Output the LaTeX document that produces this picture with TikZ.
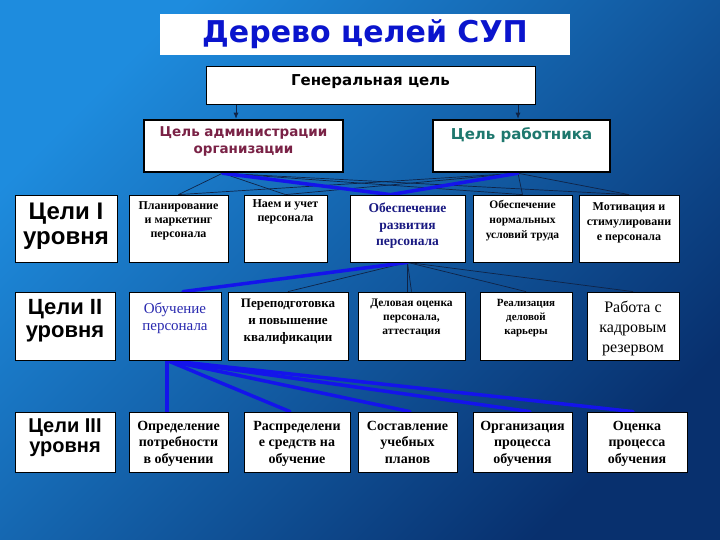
\documentclass[tikz,border=0pt]{standalone}
\usepackage{fontspec}
\setmainfont{Liberation Serif}
\newfontfamily\dvs{DejaVu Sans}
\newfontfamily\lsans{Liberation Sans}
\usetikzlibrary{calc,arrows.meta}
\pgfdeclarelayer{back}
\pgfdeclarelayer{links}
\pgfsetlayers{back,links,main}
\definecolor{bgA}{RGB}{30,140,222}
\definecolor{bgB}{RGB}{8,48,110}
\definecolor{ttl}{RGB}{10,20,205}
\definecolor{admc}{RGB}{122,34,70}
\definecolor{wrkc}{RGB}{30,120,110}
\definecolor{navyc}{RGB}{25,25,130}
\definecolor{obuc}{RGB}{40,40,175}
\definecolor{thk}{RGB}{20,20,235}
\definecolor{thn}{RGB}{15,35,70}
\newcommand{\fs}[2]{\fontsize{#1}{#2}\selectfont}
\begin{document}
\begin{tikzpicture}[x=1pt,y=-1pt,
  box/.style={draw=black, line width=0.8pt, fill=white, inner sep=0pt},
  bigbox/.style={draw=black, line width=2.5pt, fill=white, inner sep=0pt},
  tx/.style={align=center, inner sep=0pt, anchor=north},
  lnk/.style={draw=thn, line width=0.7pt},
  blu/.style={draw=thk, line width=3.5pt, line cap=round},
  lvl/.style={align=center, inner sep=0pt, anchor=north, font=\lsans\bfseries}
]
\begin{pgfonlayer}{back}
\shade[top color=bgA,bottom color=bgB,shading angle=45] (0,0) rectangle (720,540);
\end{pgfonlayer}
\useasboundingbox (0,0) rectangle (720,540);

% title and top boxes
\node[fill=white, minimum width=410pt, minimum height=41pt, inner sep=0pt] (title) at (365,34.5) {};
\node[inner sep=0pt, font=\dvs\bfseries\fs{30}{30}, text=ttl] (titlet) at (title) {Дерево целей СУП};

\node[draw=black, line width=1pt, fill=white, minimum width=329pt, minimum height=38pt, inner sep=0pt] (gen) at (370.5,86) {};
\node[tx, font=\dvs\bfseries\fs{15}{17}] (gent) at (370.5,74) {Генеральная цель};

\node[bigbox, minimum width=199pt, minimum height=52pt] (adm) at (243.5,146) {};
\node[tx, font=\dvs\bfseries\fs{13.5}{17}, text=admc] (admt) at (243.5,126) {Цель администрации\\организации};

\node[bigbox, minimum width=177pt, minimum height=52pt] (wrk) at (521.5,146) {};
\node[tx, font=\dvs\bfseries\fs{15}{17}, text=wrkc] (wrkt) at (521.5,127) {Цель работника};

% level 1
\node[box, minimum width=102pt, minimum height=67pt] (L1) at (66,228.5) {};
\node[lvl, font=\lsans\bfseries\fs{24}{25}] (L1t) at (66,203) {Цели I\\уровня};
\node[box, minimum width=99pt, minimum height=67pt] (p1) at (178.5,228.5) {};
\node[tx, font=\bfseries\fs{12}{14}] (p1t) at (178.5,201) {Планирование\\и маркетинг\\персонала};
\node[box, minimum width=83pt, minimum height=67pt] (p2) at (285.5,228.5) {};
\node[tx, font=\bfseries\fs{12}{14}] (p2t) at (285.5,199) {Наем и учет\\персонала};
\node[box, minimum width=115pt, minimum height=67pt] (p3) at (407.5,228.5) {};
\node[tx, font=\bfseries\fs{13.5}{16.5}, text=navyc] (p3t) at (407.5,203) {Обеспечение\\развития\\персонала};
\node[box, minimum width=99pt, minimum height=67pt] (p4) at (522.5,228.5) {};
\node[tx, font=\bfseries\fs{11.5}{15}] (p4t) at (522.5,200) {Обеспечение\\нормальных\\условий труда};
\node[box, minimum width=100pt, minimum height=67pt] (p5) at (629,228.5) {};
\node[tx, font=\bfseries\fs{12}{15}] (p5t) at (629,202) {Мотивация и\\стимулировани\\е персонала};

% level 2
\node[box, minimum width=100pt, minimum height=68pt] (L2) at (65,326) {};
\node[lvl, font=\lsans\bfseries\fs{22}{23}] (L2t) at (65,299) {Цели II\\уровня};
\node[box, minimum width=92pt, minimum height=68pt] (q1) at (175,326) {};
\node[tx, font=\fs{15}{17}, text=obuc] (q1t) at (175,303) {Обучение\\персонала};
\node[box, minimum width=120pt, minimum height=68pt] (q2) at (288,326) {};
\node[tx, font=\bfseries\fs{13}{17}] (q2t) at (288,299) {Переподготовка\\и повышение\\квалификации};
\node[box, minimum width=107pt, minimum height=68pt] (q3) at (411.5,326) {};
\node[tx, font=\bfseries\fs{11.5}{14}] (q3t) at (411.5,299) {Деловая оценка\\персонала,\\аттестация};
\node[box, minimum width=92pt, minimum height=68pt] (q4) at (526,326) {};
\node[tx, font=\bfseries\fs{11}{14}] (q4t) at (526,299) {Реализация\\деловой\\карьеры};
\node[box, minimum width=92pt, minimum height=68pt] (q5) at (633,326) {};
\node[tx, font=\fs{16}{20}] (q5t) at (633,301) {Работа с\\кадровым\\резервом};

% level 3
\node[box, minimum width=100pt, minimum height=60pt] (L3) at (65,442) {};
\node[lvl, font=\lsans\bfseries\fs{20}{20}] (L3t) at (65,419) {Цели III\\уровня};
\node[box, minimum width=99pt, minimum height=60pt] (r1) at (178.5,442) {};
\node[tx, font=\bfseries\fs{14}{16.5}] (r1t) at (178.5,421) {Определение\\потребности\\в обучении};
\node[box, minimum width=106pt, minimum height=60pt] (r2) at (297,442) {};
\node[tx, font=\bfseries\fs{14}{16.5}] (r2t) at (297,421) {Распределени\\е средств на\\обучение};
\node[box, minimum width=99pt, minimum height=60pt] (r3) at (407.5,442) {};
\node[tx, font=\bfseries\fs{14}{16.5}] (r3t) at (407.5,421) {Составление\\учебных\\планов};
\node[box, minimum width=99pt, minimum height=60pt] (r4) at (522.5,442) {};
\node[tx, font=\bfseries\fs{14}{16.5}] (r4t) at (522.5,421) {Организация\\процесса\\обучения};
\node[box, minimum width=100pt, minimum height=60pt] (r5) at (637,442) {};
\node[tx, font=\bfseries\fs{14}{16.5}] (r5t) at (637,421) {Оценка\\процесса\\обучения};

% connection points
\coordinate (ga) at ($(gen.south)+(-134.5,0)$);
\coordinate (gw) at ($(gen.south)+(147.5,0)$);
\coordinate (ad) at ($(adm.south)+(-21,0)$);
\coordinate (wk) at ($(wrk.south)+(-3.5,0)$);
\coordinate (p3n) at ($(p3.north)+(-17,0)$);
\coordinate (q1b) at ($(q1.south)+(-8,0)$);

\begin{pgfonlayer}{links}
\draw[draw=thn, line width=0.8pt, -{Latex[length=6pt,width=5pt]}] (ga) -- (adm.north -| ga);
\draw[draw=thn, line width=0.8pt, -{Latex[length=6pt,width=5pt]}] (gw) -- (wrk.north -| gw);
% level 0 -> 1
\foreach \t in {p1,p2,p4,p5} {
  \draw[lnk] (ad) -- (\t.north);
  \draw[lnk] (wk) -- (\t.north);
}
\draw[blu] (ad) -- (p3n) -- (wk);
% level 1 -> 2
\foreach \t in {q2,q3,q4,q5} { \draw[lnk] (p3.south) -- (\t.north -| \t.north); }
\draw[lnk] (p3.south) -- (p3.south |- q3.north);
\draw[blu] (p3.south) -- ($(q1.north)+(8,0)$);
% level 2 -> 3
\draw[blu] (q1b) -- (r1.north -| q1b);
\foreach \t/\dx in {r2/-7,r3/2.5,r4/7.5,r5/-4} { \draw[blu] (q1b) -- ($(\t.north)+(\dx,0)$); }
\end{pgfonlayer}
\end{tikzpicture}
\end{document}
